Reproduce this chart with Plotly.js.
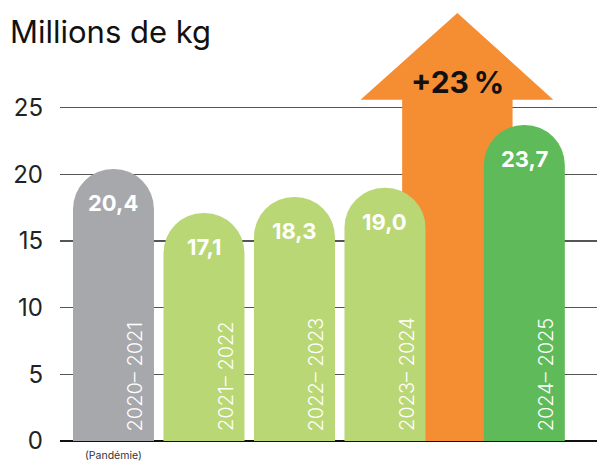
<!DOCTYPE html>
<html>
<head>
<meta charset="utf-8">
<script src="https://cdn.plot.ly/plotly-3.0.1.min.js"></script>
<style>
  html, body { margin: 0; padding: 0; background: #fff; }
  #chart { width: 597px; height: 464px; }
</style>
</head>
<body>
<div id="chart"></div>
<script>
// data
const seasons = ['2020– 2021', '2021– 2022', '2022– 2023', '2023– 2024', '2024– 2025'];
const values = [20.4, 17.1, 18.3, 19.0, 23.7];
const valueLabels = ['20,4', '17,1', '18,3', '19,0', '23,7'];
const notes = ['(Pandémie)', '', '', '', ''];
const slots = [0, 1, 2, 3, 4.54];
const barColors = ['#A7A8AC', '#B9D775', '#B9D775', '#B9D775', '#5FBA5A'];
const yTicks = [0, 5, 10, 15, 20, 25];
const growthLabel = '+23\u2009%';

const FONT = 'Inter, "Open Sans", Roboto, sans-serif';

// arrow in data units (tip at top, shaft down to zero)
const arrow = { tipX: 3.80, tipY: 32.1, headY: 25.6, headL: 2.73, headR: 4.86, shaftL: 3.19, shaftR: 4.41 };
const arrowPath = [
  'M', arrow.shaftL, 0,
  'L', arrow.shaftL, arrow.headY,
  'L', arrow.headL, arrow.headY,
  'L', arrow.tipX, arrow.tipY,
  'L', arrow.headR, arrow.headY,
  'L', arrow.shaftR, arrow.headY,
  'L', arrow.shaftR, 0, 'Z'
].join(' ');

const bars = {
  type: 'bar',
  x: slots,
  y: values,
  width: 0.895,
  marker: { color: barColors, cornerradius: '50%', line: { width: 0 } },
  hoverinfo: 'skip',
};

const annotations = [];
slots.forEach((x, i) => {
  annotations.push({
    x, y: values[i], xref: 'x', yref: 'y',
    text: '<b>' + valueLabels[i] + '</b>',
    showarrow: false, yanchor: 'middle', yshift: -34,
    font: { family: FONT, size: 22, color: '#fff' },
  });
  annotations.push({
    x, y: 0, xref: 'x', yref: 'y',
    text: seasons[i],
    textangle: -90,
    showarrow: false, xanchor: 'center', yanchor: 'bottom',
    xshift: 22, yshift: 8,
    font: { family: FONT, size: 20, color: '#fff', weight: 300 },
  });
  if (notes[i]) {
    annotations.push({
      x, y: 0, xref: 'x', yref: 'y',
      text: notes[i],
      showarrow: false, yanchor: 'top', yshift: -7, borderpad: 0,
      font: { family: FONT, size: 10.5, color: '#333' },
    });
  }
});
annotations.push({
  x: arrow.tipX, y: 26.9, xref: 'x', yref: 'y',
  text: '<b>' + growthLabel + '</b>',
  showarrow: false,
  font: { family: FONT, size: 30, color: '#111' },
});

const layout = {
  width: 597,
  height: 464,
  margin: { l: 60, r: 0, t: 1, b: 23 },
  paper_bgcolor: '#fff',
  plot_bgcolor: '#fff',
  showlegend: false,
  title: {
    text: 'Millions de kg',
    xref: 'container', yref: 'container',
    x: 10 / 597, xanchor: 'left',
    y: 1 - 32 / 464, yanchor: 'middle',
    font: { family: FONT, size: 31, color: '#111' },
  },
  xaxis: {
    range: [-0.591, 5.343],
    showgrid: false, zeroline: false, showticklabels: false,
    fixedrange: true,
  },
  yaxis: {
    range: [0, 33],
    tickvals: yTicks,
    ticktext: yTicks.map(String),
    showgrid: true, gridcolor: '#555', gridwidth: 1.5,
    zeroline: true, zerolinecolor: '#111', zerolinewidth: 1.5,
    ticks: '', ticklabelstandoff: 16,
    tickfont: { family: FONT, size: 24, color: '#222' },
    fixedrange: true,
  },
  shapes: [{
    type: 'path', xref: 'x', yref: 'y', path: arrowPath,
    fillcolor: '#F58D33', line: { width: 0 }, layer: 'between',
  }],
  annotations,
};

Plotly.newPlot('chart', [bars], layout, { displayModeBar: false, staticPlot: true });
</script>
</body>
</html>
